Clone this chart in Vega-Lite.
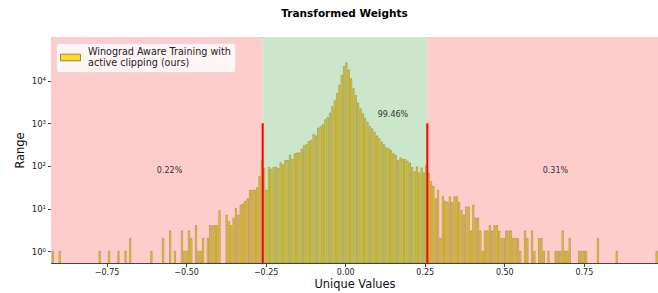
{
  "$schema": "https://vega.github.io/schema/vega-lite/v6.json",
  "width": 607,
  "height": 226,
  "autosize": "none",
  "padding": {"left": 51, "top": 37, "right": 0, "bottom": 30},
  "background": "white",
  "title": {"text": "Transformed Weights", "fontSize": 10.5, "fontWeight": "bold", "font": "DejaVu Sans", "color": "black", "dx": -10, "offset": 10, "baseline": "alphabetic"},
  "config": {
    "view": {"stroke": "#555", "strokeWidth": 1},
    "font": "DejaVu Sans",
    "axis": {"grid": false, "domainColor": "#444", "tickColor": "#444", "labelColor": "#222", "titleColor": "#111", "labelFontSize": 8, "titleFontSize": 11.4, "titleFontWeight": "normal", "tickSize": 3.5, "labelPadding": 2, "labelFont": "DejaVu Sans", "titleFont": "DejaVu Sans"}
  },
  "datasets": {
    "regions": [
      {"x0": -1.0, "x1": -0.2593, "zone": "clipped"},
      {"x0": -0.2593, "x1": 0.2580, "zone": "kept"},
      {"x0": 0.2580, "x1": 1.0, "zone": "clipped"}
    ],
    "thresholds": [{"t": -0.2593}, {"t": 0.2580}],
    "notes": [
      {"x": -0.592, "y": 70, "label": "0.22%"},
      {"x": 0.102, "y": 1416, "label": "99.46%"},
      {"x": 0.6207, "y": 70, "label": "0.31%"}
    ],
    "hist": [
      {"v": -0.9209, "n": 1}, {"v": -0.8987, "n": 1}, {"v": -0.7732, "n": 1}, {"v": -0.7436, "n": 1},
      {"v": -0.7141, "n": 1}, {"v": -0.6919, "n": 1}, {"v": -0.6772, "n": 2}, {"v": -0.6107, "n": 1},
      {"v": -0.5738, "n": 2}, {"v": -0.5516, "n": 3}, {"v": -0.5369, "n": 1}, {"v": -0.5147, "n": 3},
      {"v": -0.5073, "n": 1}, {"v": -0.4999, "n": 1}, {"v": -0.4925, "n": 3}, {"v": -0.4852, "n": 2},
      {"v": -0.4704, "n": 4}, {"v": -0.4630, "n": 1}, {"v": -0.4556, "n": 1}, {"v": -0.4482, "n": 2},
      {"v": -0.4335, "n": 2}, {"v": -0.4261, "n": 4}, {"v": -0.4187, "n": 4}, {"v": -0.4113, "n": 4},
      {"v": -0.4039, "n": 4}, {"v": -0.3965, "n": 9}, {"v": -0.3744, "n": 7}, {"v": -0.3670, "n": 5},
      {"v": -0.3596, "n": 4}, {"v": -0.3522, "n": 6}, {"v": -0.3448, "n": 10}, {"v": -0.3375, "n": 7},
      {"v": -0.3301, "n": 12}, {"v": -0.3227, "n": 13}, {"v": -0.3153, "n": 15}, {"v": -0.3079, "n": 17},
      {"v": -0.3005, "n": 27}, {"v": -0.2931, "n": 27}, {"v": -0.2858, "n": 27}, {"v": -0.2784, "n": 31},
      {"v": -0.2710, "n": 57}, {"v": -0.2636, "n": 131}, {"v": -0.2562, "n": 88}, {"v": -0.2488, "n": 27},
      {"v": -0.2414, "n": 92}, {"v": -0.2341, "n": 84}, {"v": -0.2267, "n": 92}, {"v": -0.2193, "n": 95},
      {"v": -0.2119, "n": 87}, {"v": -0.2045, "n": 119}, {"v": -0.1971, "n": 107}, {"v": -0.1897, "n": 135},
      {"v": -0.1824, "n": 135}, {"v": -0.1750, "n": 177}, {"v": -0.1676, "n": 143}, {"v": -0.1602, "n": 193},
      {"v": -0.1528, "n": 200}, {"v": -0.1454, "n": 203}, {"v": -0.1380, "n": 250}, {"v": -0.1307, "n": 302},
      {"v": -0.1233, "n": 318}, {"v": -0.1159, "n": 375}, {"v": -0.1085, "n": 395}, {"v": -0.1011, "n": 546},
      {"v": -0.0937, "n": 507}, {"v": -0.0864, "n": 766}, {"v": -0.0790, "n": 836}, {"v": -0.0716, "n": 930},
      {"v": -0.0642, "n": 1217}, {"v": -0.0568, "n": 1378}, {"v": -0.0494, "n": 1742}, {"v": -0.0420, "n": 2450},
      {"v": -0.0347, "n": 3360}, {"v": -0.0273, "n": 5000}, {"v": -0.0199, "n": 7800}, {"v": -0.0125, "n": 13300},
      {"v": -0.0051, "n": 21500}, {"v": 0.0023, "n": 26000}, {"v": 0.0097, "n": 17700}, {"v": 0.0170, "n": 11100},
      {"v": 0.0244, "n": 6500}, {"v": 0.0318, "n": 4460}, {"v": 0.0392, "n": 2960}, {"v": 0.0466, "n": 2230},
      {"v": 0.0540, "n": 1670}, {"v": 0.0613, "n": 1310}, {"v": 0.0687, "n": 1050}, {"v": 0.0761, "n": 840},
      {"v": 0.0835, "n": 740}, {"v": 0.0909, "n": 620}, {"v": 0.0983, "n": 507}, {"v": 0.1056, "n": 434},
      {"v": 0.1130, "n": 362}, {"v": 0.1204, "n": 314}, {"v": 0.1278, "n": 267}, {"v": 0.1352, "n": 253},
      {"v": 0.1426, "n": 231}, {"v": 0.1499, "n": 193}, {"v": 0.1573, "n": 177}, {"v": 0.1647, "n": 135},
      {"v": 0.1721, "n": 154}, {"v": 0.1795, "n": 143}, {"v": 0.1869, "n": 143}, {"v": 0.1942, "n": 130},
      {"v": 0.2016, "n": 117}, {"v": 0.2090, "n": 92}, {"v": 0.2164, "n": 73}, {"v": 0.2238, "n": 95},
      {"v": 0.2311, "n": 69}, {"v": 0.2385, "n": 90}, {"v": 0.2459, "n": 69}, {"v": 0.2533, "n": 104},
      {"v": 0.2607, "n": 67}, {"v": 0.2681, "n": 43}, {"v": 0.2754, "n": 33}, {"v": 0.2828, "n": 17},
      {"v": 0.2902, "n": 27}, {"v": 0.2976, "n": 2}, {"v": 0.3050, "n": 19}, {"v": 0.3124, "n": 15},
      {"v": 0.3197, "n": 14}, {"v": 0.3271, "n": 19}, {"v": 0.3345, "n": 14}, {"v": 0.3419, "n": 19},
      {"v": 0.3493, "n": 19}, {"v": 0.3567, "n": 14}, {"v": 0.3640, "n": 9}, {"v": 0.3714, "n": 7},
      {"v": 0.3788, "n": 11}, {"v": 0.3862, "n": 11}, {"v": 0.3936, "n": 3}, {"v": 0.4010, "n": 12},
      {"v": 0.4083, "n": 6}, {"v": 0.4157, "n": 6}, {"v": 0.4231, "n": 3}, {"v": 0.4305, "n": 1},
      {"v": 0.4379, "n": 3}, {"v": 0.4453, "n": 3}, {"v": 0.4526, "n": 4}, {"v": 0.4600, "n": 3},
      {"v": 0.4674, "n": 4}, {"v": 0.4748, "n": 4}, {"v": 0.4822, "n": 3}, {"v": 0.4896, "n": 2},
      {"v": 0.4969, "n": 2}, {"v": 0.5043, "n": 3}, {"v": 0.5117, "n": 3}, {"v": 0.5191, "n": 3},
      {"v": 0.5265, "n": 2}, {"v": 0.5338, "n": 2}, {"v": 0.5412, "n": 2}, {"v": 0.5486, "n": 1},
      {"v": 0.5634, "n": 3}, {"v": 0.5708, "n": 2}, {"v": 0.5855, "n": 3}, {"v": 0.5929, "n": 1},
      {"v": 0.6077, "n": 2}, {"v": 0.6151, "n": 2}, {"v": 0.6224, "n": 1}, {"v": 0.6372, "n": 1},
      {"v": 0.6594, "n": 1}, {"v": 0.6667, "n": 1}, {"v": 0.6741, "n": 1}, {"v": 0.6815, "n": 3},
      {"v": 0.6889, "n": 1}, {"v": 0.6963, "n": 1}, {"v": 0.7037, "n": 2}, {"v": 0.7332, "n": 1},
      {"v": 0.7406, "n": 1}, {"v": 0.7480, "n": 1}, {"v": 0.7554, "n": 1}, {"v": 0.7923, "n": 2},
      {"v": 0.8514, "n": 1}, {"v": 0.9769, "n": 1}
    ]
  },
  "layer": [
    {
      "data": {"name": "regions"},
      "mark": {"type": "rect", "clip": true},
      "encoding": {
        "x": {"field": "x0", "type": "quantitative", "title": "Unique Values",
              "scale": {"domain": [-0.92458, 0.983], "nice": false, "zero": false},
              "axis": {"values": [-0.75, -0.5, -0.25, 0, 0.25, 0.5, 0.75], "format": ".2f", "titlePadding": 2}},
        "x2": {"field": "x1"},
        "fill": {"field": "zone", "type": "nominal", "scale": {"domain": ["clipped", "kept"], "range": ["#FFCCCC", "#CCE6CC"]}, "legend": null}
      }
    },
    {
      "data": {"name": "hist"},
      "transform": [
        {"bin": {"step": 0.0073853, "anchor": -0.92458, "extent": [-0.92458, 0.99], "nice": false}, "field": "v", "as": "b"}
      ],
      "mark": {"type": "bar", "clip": true, "fillOpacity": 0.88, "stroke": "#4a4220", "strokeWidth": 0.45, "strokeOpacity": 0.7},
      "encoding": {
        "x": {"field": "b", "type": "quantitative", "bin": {"binned": true}, "title": "Unique Values"},
        "x2": {"field": "b_end"},
        "y": {"field": "n", "type": "quantitative", "title": "Range",
              "scale": {"type": "log", "domain": [0.53, 105000], "nice": false},
              "axis": {"values": [1, 10, 100, 1000, 10000], "titlePadding": 6, "labelFontSize": 8.5,
                       "labelExpr": "datum.value < 5 ? '10⁰' : datum.value < 50 ? '10¹' : datum.value < 500 ? '10²' : datum.value < 5000 ? '10³' : '10⁴'"}},
        "y2": {"datum": 0.53},
        "color": {"datum": "Winograd Aware Training with active clipping (ours)", "type": "nominal",
                  "scale": {"range": ["#FFD700"]},
                  "legend": {"orient": "none", "legendX": 5, "legendY": 6, "title": null,
                             "labelExpr": "['Winograd Aware Training with', 'active clipping (ours)']",
                             "symbolType": "M-1,-0.33L1,-0.33L1,0.33L-1,0.33Z", "symbolSize": 400,
                             "symbolStrokeColor": "#4a4220", "symbolStrokeWidth": 0.7, "symbolOpacity": 0.85,
                             "labelFontSize": 9.6, "labelColor": "#222", "labelOffset": 7, "labelLimit": 300,
                             "padding": 4, "fillColor": "rgba(255,255,255,0.8)", "strokeColor": "#dddddd", "cornerRadius": 3,
                             "encode": {"labels": {"update": {"lineHeight": {"value": 11}, "dy": {"value": -5.5}}}}}}
      }
    },
    {
      "data": {"name": "thresholds"},
      "mark": {"type": "rule", "color": "#FF0000", "strokeWidth": 2, "clip": true},
      "encoding": {
        "x": {"field": "t", "type": "quantitative", "title": "Unique Values"},
        "y": {"datum": 1000},
        "y2": {"datum": 0.53}
      }
    },
    {
      "data": {"name": "notes"},
      "mark": {"type": "text", "align": "left", "baseline": "alphabetic", "fontSize": 8, "color": "#333"},
      "encoding": {
        "x": {"field": "x", "type": "quantitative", "title": "Unique Values"},
        "y": {"field": "y", "type": "quantitative"},
        "text": {"field": "label"}
      }
    }
  ]
}
